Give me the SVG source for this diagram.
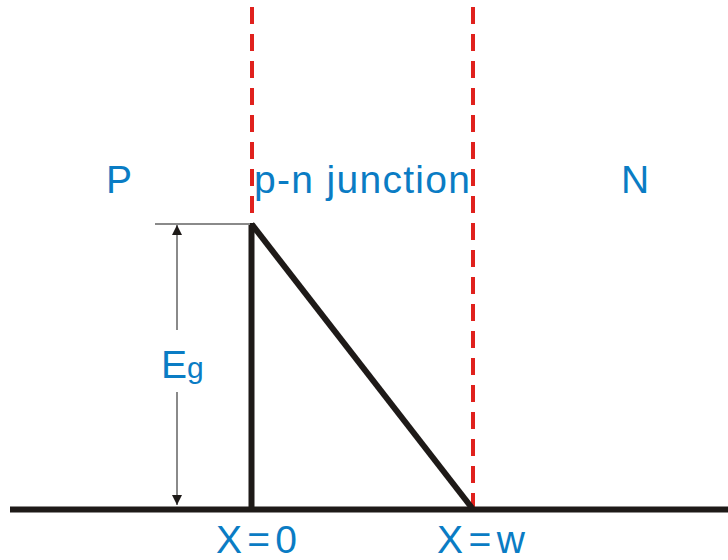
<svg xmlns="http://www.w3.org/2000/svg" width="728" height="560" viewBox="0 0 728 560">
<style>
.lbl{font-family:"Liberation Sans",Arial,sans-serif;font-size:39px;fill:#0a7cc4}
.dash{stroke:#e0211d;stroke-width:4;stroke-dasharray:17 10;fill:none}
.thick{stroke:#1e1a18;stroke-width:6;fill:none}
.dim{stroke:#8a8a8a;stroke-width:2;fill:none}
</style>
<defs>
<marker id="ah" viewBox="0 0 10 10" refX="10" refY="5" markerWidth="10" markerHeight="10" markerUnits="userSpaceOnUse" orient="auto">
<path d="M0,0 L10,5 L0,10 Z" fill="#1e1a18"/>
</marker>
</defs>
<g id="connectors">
<line class="dash" x1="252" y1="7" x2="252" y2="510"/>
<line class="dash" x1="473" y1="7" x2="473" y2="510"/>
<line class="thick" x1="10" y1="509.5" x2="728" y2="509.5"/>
<line class="thick" x1="251.5" y1="223" x2="251.5" y2="509"/>
<line class="thick" x1="251.5" y1="224" x2="472" y2="508"/>
<line class="dim" x1="155" y1="224" x2="250" y2="224"/>
<line class="dim" x1="177" y1="330" x2="177" y2="225" marker-end="url(#ah)"/>
<line class="dim" x1="177" y1="392" x2="177" y2="505" marker-end="url(#ah)"/>
</g>
<g id="label-P"><text class="lbl" x="106" y="193">P</text></g>
<g id="label-junction"><text class="lbl" x="254" y="193" textLength="216">p-n junction</text></g>
<g id="label-N"><text class="lbl" x="621" y="193">N</text></g>
<g id="label-Eg"><text class="lbl" x="161" y="378">E<tspan font-size="30">g</tspan></text></g>
<g id="label-x0"><text class="lbl" x="216" y="553" textLength="81">X=0</text></g>
<g id="label-xw"><text class="lbl" x="437" y="553" textLength="88">X=w</text></g>
</svg>
